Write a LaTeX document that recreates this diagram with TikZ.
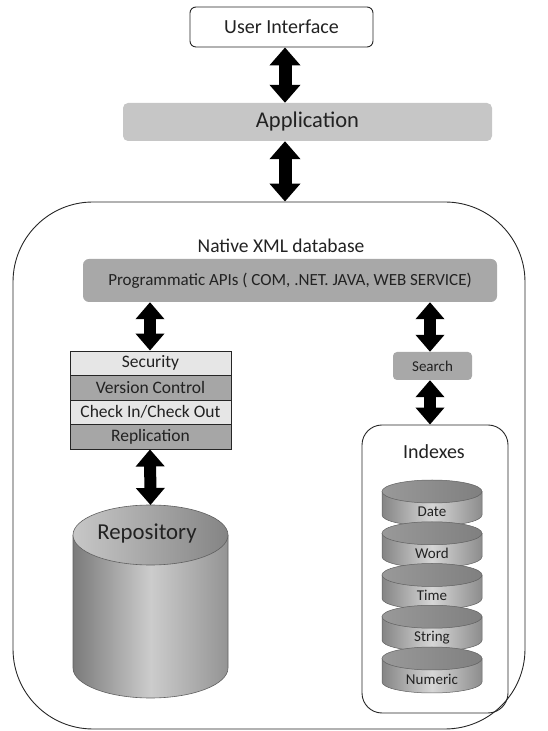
\documentclass[tikz,border=0pt]{standalone}
\usepackage{fontspec}
\setmainfont{Carlito}
\usetikzlibrary{arrows.meta,calc}
\definecolor{txt}{HTML}{222222}
\definecolor{appgray}{HTML}{C6C6C6}
\definecolor{apigray}{HTML}{A8A8A8}
\definecolor{rowlight}{HTML}{E6E6E6}
\definecolor{rowdark}{HTML}{A6A6A6}
\definecolor{edge}{HTML}{606060}
\tikzset{
  bigarr/.style={line width=13pt, draw=black,
    {Triangle[width=30pt,length=18pt]}-{Triangle[width=30pt,length=18pt]}},
  smallarr/.style={line width=12pt, draw=black,
    {Triangle[width=28pt,length=17pt]}-{Triangle[width=28pt,length=17pt]}},
  framebox/.style={draw=black!85, line width=0.9pt},
  rowbox/.style={framebox, rectangle, minimum width=161pt, minimum height=24.5pt,
    inner sep=0pt, font=\fontsize{17.5}{20}\selectfont},
  disklbl/.style={font=\fontsize{15}{18}\selectfont, inner sep=0pt},
}
\begin{document}
\begin{tikzpicture}[x=1pt,y=1pt,every node/.append style={text=txt}]
\useasboundingbox (0,0) rectangle (548,731);

% top layers
\node[framebox, rounded corners=6pt, fill=white, minimum width=183pt, minimum height=40pt,
      inner sep=0pt, font=\fontsize{20}{24}\selectfont] (ui) at (281.5,704) {User Interface};
\node[fill=appgray, rounded corners=5pt, minimum width=369pt, minimum height=38pt,
      inner sep=0pt, font=\fontsize{22.5}{27}\selectfont] (app) at (307.5,609) {Application};

% outer database frame
\node[framebox, rounded corners=80pt, minimum width=512pt, minimum height=527pt,
      inner sep=0pt] (db) at (269,265.5) {};
\node[font=\fontsize{19.5}{23}\selectfont, inner sep=0pt] (dbtitle) at (281,485) {Native XML database};

\node[fill=apigray, rounded corners=6pt, minimum width=414pt, minimum height=43pt,
      inner sep=0pt, font=\fontsize{17}{20}\selectfont] (api) at (290,450.5)
      {Programmatic APIs ( COM, .NET. JAVA, WEB SERVICE)};

% left stack
\node[rowbox, fill=rowlight] (sec) at (150.5,367.75) {Security};
\node[rowbox, fill=rowdark] (ver) at (150.5,343.25) {Version Control};
\node[rowbox, fill=rowlight] (chk) at (150.5,318.75) {Check In/Check Out};
\node[rowbox, fill=rowdark] (rep) at (150.5,294.25) {Replication};

% repository cylinder
\shade[left color=black!52, right color=black!42, middle color=black!20]
  (73,196) -- (73,63) arc[start angle=180,end angle=360,x radius=77.5,y radius=30]
  -- (228,196) -- cycle;
\draw[edge, line width=0.6pt]
  (73,196) -- (73,63) arc[start angle=180,end angle=360,x radius=77.5,y radius=30]
  -- (228,196);
\shade[left color=black!22, right color=black!48]
  (150.5,196) ellipse [x radius=77.5, y radius=30];
\draw[edge, line width=0.6pt] (150.5,196) ellipse [x radius=77.5, y radius=30];
\node[font=\fontsize{22.8}{27}\selectfont, inner sep=0pt] (repo) at (147,198) {Repository};
\coordinate (repotop) at (150.5,226);

% search and indexes
\node[fill=apigray, rounded corners=4pt, minimum width=79pt, minimum height=28pt,
      inner sep=0pt, font=\fontsize{15}{18}\selectfont] (search) at (432.5,365) {Search};
\node[framebox, rounded corners=20pt, minimum width=146pt, minimum height=288pt,
      inner sep=0pt] (idx) at (435,162) {};
\node[font=\fontsize{20}{24}\selectfont, inner sep=0pt] (idxtitle) at (434,279) {Indexes};

\foreach \lbl [count=\i from 0] in {Date,Word,Time,String,Numeric}{
  \pgfmathsetmacro{\tt}{480+41.75*\i}
  \pgfmathsetmacro{\ytc}{731-(\tt+11.5)}
  \pgfmathsetmacro{\ybc}{731-(\tt+35)}
  \pgfmathsetmacro{\ylb}{731-(\tt+32)}
  \shade[left color=black!48, right color=black!45, middle color=black!16]
    (382,\ytc) -- (382,\ybc) arc[start angle=180,end angle=360,x radius=50,y radius=11]
    -- (482,\ytc) -- cycle;
  \draw[edge, line width=0.5pt]
    (382,\ytc) -- (382,\ybc) arc[start angle=180,end angle=360,x radius=50,y radius=11]
    -- (482,\ytc);
  \shade[left color=black!40, right color=black!50]
    (432,\ytc) ellipse [x radius=50, y radius=11.5];
  \draw[edge, line width=0.5pt] (432,\ytc) ellipse [x radius=50, y radius=11.5];
  \node[disklbl] (disk\i) at (432,\ylb) {\lbl};
}

% connectors
\coordinate (ax1) at (285,0);
\coordinate (axL) at (150,0);
\coordinate (axR) at (430,0);
\draw[bigarr] (ui.south -| ax1) -- (app.north -| ax1);
\draw[bigarr] (app.south -| ax1) -- (db.north -| ax1);
\draw[smallarr] (api.south -| axL) -- (sec.north -| axL);
\draw[smallarr] (rep.south -| axL) -- (repotop);
\draw[smallarr] (api.south -| axR) -- (search.north -| axR);
\draw[smallarr] (search.south -| axR) -- (idx.north -| axR);
\end{tikzpicture}
\end{document}
